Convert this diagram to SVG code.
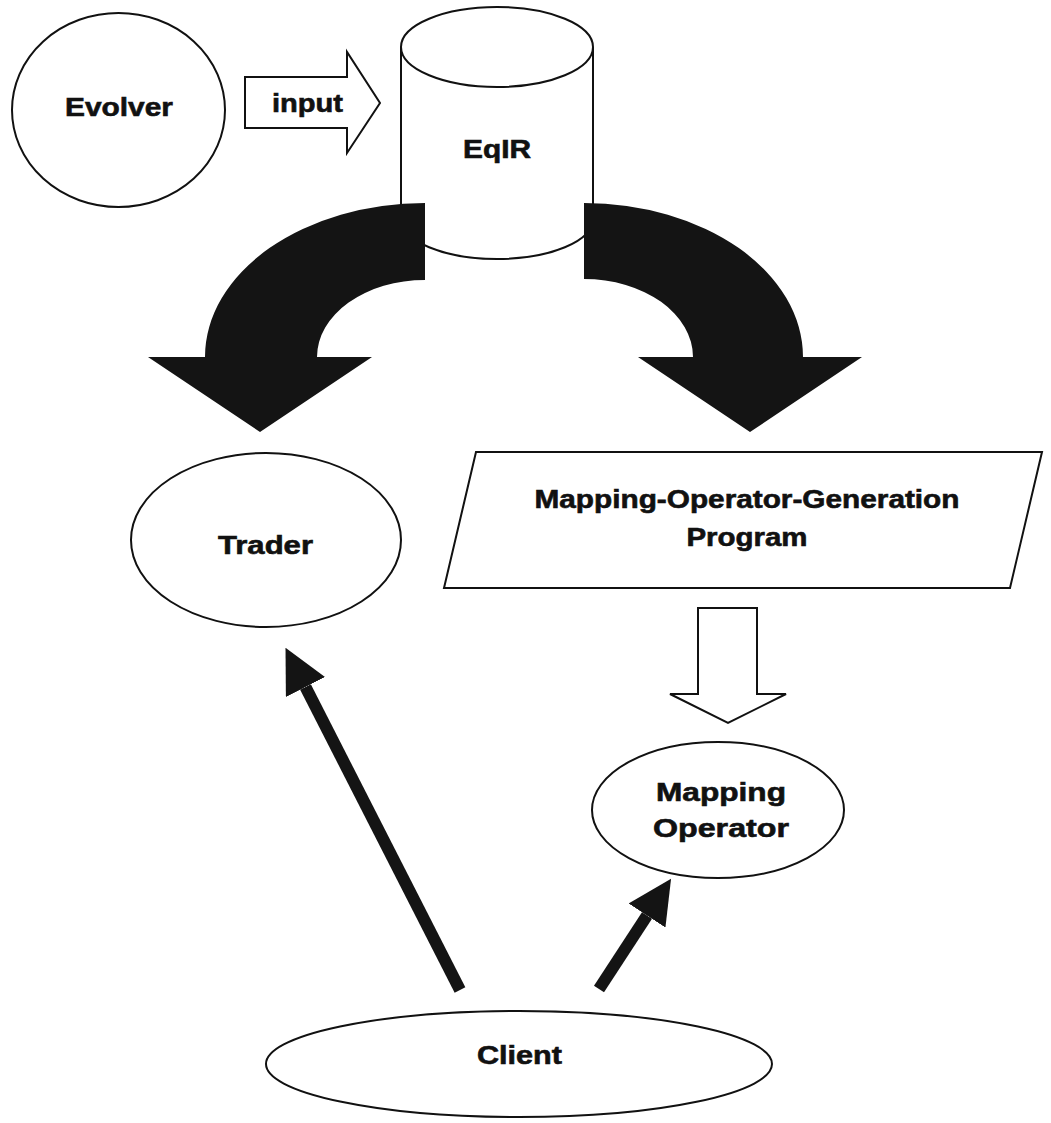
<svg xmlns="http://www.w3.org/2000/svg" width="1051" height="1123" viewBox="0 0 1051 1123">
<style>
.shape{fill:#fff;stroke:#111;stroke-width:2}
.dark{fill:#141414;stroke:none}
.lbl{font-family:"Liberation Sans",Arial,sans-serif;font-weight:bold;font-size:25px;fill:#111;stroke:#111;stroke-width:0.6;text-anchor:middle}
.shaft{stroke:#141414;stroke-width:12;fill:none}
</style>
<defs>
<marker id="head" viewBox="0 0 44 44" refX="0" refY="22" markerWidth="44" markerHeight="44" markerUnits="userSpaceOnUse" orient="auto">
<path d="M0,0 L44,22 L0,44 Z" fill="#141414"/>
</marker>
</defs>
<rect width="1051" height="1123" fill="#fff"/>

<g id="evolver">
<ellipse class="shape" cx="118.5" cy="110" rx="106.5" ry="97"/>
<text class="lbl" x="119" y="116" textLength="108" lengthAdjust="spacingAndGlyphs">Evolver</text>
</g>

<g id="input-arrow">
<polygon class="shape" points="245,77 347,77 347,52 380,103 347,153 347,128 245,128"/>
<text class="lbl" x="307.5" y="112" textLength="71" lengthAdjust="spacingAndGlyphs">input</text>
</g>

<g id="eqir">
<path class="shape" d="M401,47 L401,219 A96,40 0 0 0 593,219 L593,47"/>
<ellipse class="shape" cx="497" cy="47" rx="96" ry="40"/>
<text class="lbl" x="497" y="158" textLength="68" lengthAdjust="spacingAndGlyphs">EqIR</text>
</g>

<g id="connectors">
<path class="dark" d="M425,203 L425,280 A108,77 0 0 0 317,357 L372,357 L260,432 L148,357 L205,357 A220,154 0 0 1 425,203 Z"/>
<path class="dark" d="M584,203 A219,154 0 0 1 803,357 L862,357 L750,432 L638,357 L693,357 A109,78 0 0 0 584,279 Z"/>
<polygon class="shape" points="698,608 757,608 757,694 786,694 728,723 670,694 698,694"/>
<line class="shaft" x1="460" y1="990" x2="305.5" y2="687" marker-end="url(#head)"/>
<line class="shaft" x1="599" y1="989" x2="647" y2="915.5" marker-end="url(#head)"/>
</g>

<g id="trader">
<ellipse class="shape" cx="266" cy="540" rx="135" ry="87"/>
<text class="lbl" x="265.5" y="554" textLength="95" lengthAdjust="spacingAndGlyphs">Trader</text>
</g>

<g id="program">
<polygon class="shape" points="476,452 1042,452 1010,588 444,588"/>
<text class="lbl" x="747" y="508" textLength="425" lengthAdjust="spacingAndGlyphs">Mapping-Operator-Generation</text>
<text class="lbl" x="747" y="546" textLength="121" lengthAdjust="spacingAndGlyphs">Program</text>
</g>

<g id="mapping-operator">
<ellipse class="shape" cx="718" cy="810" rx="126" ry="68"/>
<text class="lbl" x="721" y="801" textLength="130" lengthAdjust="spacingAndGlyphs">Mapping</text>
<text class="lbl" x="721" y="837" textLength="136" lengthAdjust="spacingAndGlyphs">Operator</text>
</g>

<g id="client">
<ellipse class="shape" cx="519" cy="1064" rx="253" ry="53"/>
<text class="lbl" x="519.5" y="1064" textLength="85" lengthAdjust="spacingAndGlyphs">Client</text>
</g>
</svg>
